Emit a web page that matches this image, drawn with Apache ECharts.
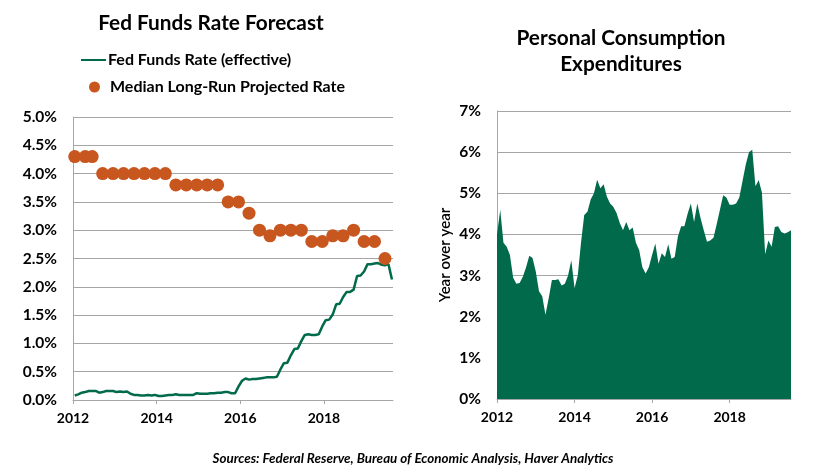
<!DOCTYPE html>
<html>
<head>
<meta charset="utf-8">
<script src="https://cdn.jsdelivr.net/npm/echarts@6/dist/echarts.min.js"></script>
<style>
  html, body { margin: 0; padding: 0; background: #ffffff; }
  #chart { width: 821px; height: 473px; }
</style>
</head>
<body>
<div id="chart"></div>
<script>
// ---------------- DATA ----------------
const yearTicks = [2012, 2014, 2016, 2018];

// Effective Fed Funds Rate, monthly, starting 2012-01
const ffStartYear = 2012;
const ffValues = [
  0.08, 0.10, 0.13, 0.14, 0.16, 0.16, 0.16, 0.13, 0.14, 0.16, 0.16, 0.16,
  0.14, 0.15, 0.14, 0.15, 0.11, 0.09, 0.09, 0.08, 0.08, 0.09, 0.08, 0.09,
  0.07, 0.07, 0.08, 0.09, 0.09, 0.10, 0.09, 0.09, 0.09, 0.09, 0.09, 0.12,
  0.11, 0.11, 0.11, 0.12, 0.12, 0.13, 0.13, 0.14, 0.14, 0.12, 0.12, 0.24,
  0.34, 0.38, 0.36, 0.37, 0.37, 0.38, 0.39, 0.40, 0.40, 0.40, 0.41, 0.54,
  0.65, 0.66, 0.79, 0.90, 0.91, 1.04, 1.15, 1.16, 1.15, 1.15, 1.16, 1.30,
  1.41, 1.42, 1.51, 1.69, 1.70, 1.82, 1.91, 1.91, 1.95, 2.19, 2.20, 2.27,
  2.40, 2.40, 2.41, 2.42, 2.39, 2.38, 2.40, 2.13
];

// Median long-run projected rate (FOMC meetings)
const dotDates = [
  '2012-01', '2012-04', '2012-06', '2012-09', '2012-12',
  '2013-03', '2013-06', '2013-09', '2013-12',
  '2014-03', '2014-06', '2014-09', '2014-12',
  '2015-03', '2015-06', '2015-09', '2015-12',
  '2016-03', '2016-06', '2016-09', '2016-12',
  '2017-03', '2017-06', '2017-09', '2017-12',
  '2018-03', '2018-06', '2018-09', '2018-12',
  '2019-03', '2019-06'
];
const dotValues = [
  4.3, 4.3, 4.3, 4.0, 4.0,
  4.0, 4.0, 4.0, 4.0,
  4.0, 3.8, 3.8, 3.8,
  3.8, 3.8, 3.5, 3.5,
  3.3, 3.0, 2.9, 3.0,
  3.0, 3.0, 2.8, 2.8,
  2.9, 2.9, 3.0, 2.8,
  2.8, 2.5
];

// PCE, year over year %, monthly, starting 2012-01
const pceStartYear = 2012;
const pceValues = [
  4.0, 4.6, 3.8, 3.7, 3.5, 2.95, 2.8, 2.82, 2.97, 3.2, 3.48, 3.43,
  3.1, 2.62, 2.5, 2.05, 2.45, 2.89, 2.89, 2.91, 2.76, 2.8, 3.0, 3.37,
  2.7, 3.0, 3.8, 4.47, 4.55, 4.85, 5.0, 5.33, 5.12, 5.22, 4.92, 4.75,
  4.67, 4.52, 4.28, 4.1, 4.3, 4.1, 4.17, 3.8, 3.62, 3.2, 3.05, 3.2,
  3.5, 3.78, 3.29, 3.54, 3.45, 3.76, 3.41, 3.45, 3.95, 4.2, 4.2, 4.5,
  4.75, 4.3, 4.75, 4.4, 4.1, 3.82, 3.85, 3.92, 4.25, 4.6, 4.95, 4.9,
  4.72, 4.72, 4.75, 4.9, 5.3, 5.7, 6.0, 6.06, 5.17, 5.32, 5.02, 3.52,
  3.85, 3.7, 4.18, 4.2, 4.06, 4.02, 4.05, 4.1
];

// ---------------- BUILD ----------------
const GREEN = '#006a4a';
const ORANGE = '#c8561f';
const GRID_COLOR = '#a6a6a6';
const FONT = 'Lato';

function monthToDec(s) {
  const [y, m] = s.split('-').map(Number);
  return y + (m - 1) / 12 + 1 / 24;
}
const ffData = ffValues.map((v, i) => [ffStartYear + i / 12 + 1 / 24, v]);
const dotData = dotDates.map((d, i) => [monthToDec(d), dotValues[i]]);
const pceData = pceValues.map((v, i) => [pceStartYear + i / 12, v]);
const pceMax = pceStartYear + (pceValues.length - 1) / 12;

const xLabelStyle = { color: '#000', fontFamily: FONT, fontWeight: 'bold', fontSize: 14 };
const yLabelStyle = { color: '#000', fontFamily: FONT, fontWeight: 'bold', fontSize: 15.5 };

const chart = echarts.init(document.getElementById('chart'));
chart.setOption({
  animation: false,
  backgroundColor: '#ffffff',
  textStyle: { fontFamily: FONT },
  graphic: [
    { type: 'text', x: 211, y: 23, style: { text: 'Fed Funds Rate Forecast', fill: '#000', font: 'bold 20.8px ' + FONT, textAlign: 'center', textVerticalAlign: 'middle' } },
    { type: 'text', x: 621, y: 38, style: { text: 'Personal Consumption', fill: '#000', font: 'bold 20.8px ' + FONT, textAlign: 'center', textVerticalAlign: 'middle' } },
    { type: 'text', x: 621, y: 64, style: { text: 'Expenditures', fill: '#000', font: 'bold 20.8px ' + FONT, textAlign: 'center', textVerticalAlign: 'middle' } },
    { type: 'text', x: 413, y: 459, style: { text: 'Sources: Federal Reserve, Bureau of Economic Analysis, Haver Analytics', fill: '#000', font: 'italic bold 13.4px ' + FONT, textAlign: 'center', textVerticalAlign: 'middle' } }
  ],
  legend: [
    {
      data: ['Fed Funds Rate (effective)'],
      left: 81, top: 52, padding: 0,
      icon: 'rect', itemWidth: 25, itemHeight: 2,
      textStyle: { color: '#000', fontFamily: FONT, fontWeight: 'bold', fontSize: 16, padding: [0, 0, 0, -3] }
    },
    {
      data: ['Median Long-Run Projected Rate'],
      left: 89, top: 79, padding: 0,
      icon: 'circle', itemWidth: 11, itemHeight: 11,
      textStyle: { color: '#000', fontFamily: FONT, fontWeight: 'bold', fontSize: 16, padding: [0, 0, 0, 5] }
    }
  ],
  grid: [
    { left: 73, right: 428, top: 117, bottom: 73 },
    { left: 497, right: 30, top: 111, bottom: 74 }
  ],
  xAxis: [
    {
      type: 'value', gridIndex: 0, min: 2012, max: 2019.65,
      axisLine: { show: true, lineStyle: { color: GRID_COLOR, width: 1 } },
      axisTick: { show: true, length: 4, lineStyle: { color: GRID_COLOR }, customValues: yearTicks },
      axisLabel: Object.assign({ margin: 11, customValues: yearTicks, formatter: v => String(Math.round(v)) }, xLabelStyle),
      splitLine: { show: false }
    },
    {
      type: 'value', gridIndex: 1, min: 2012, max: pceMax,
      axisLine: { show: true, lineStyle: { color: GRID_COLOR, width: 1 } },
      axisTick: { show: true, length: 4, lineStyle: { color: GRID_COLOR }, customValues: yearTicks },
      axisLabel: Object.assign({ margin: 11, customValues: yearTicks, formatter: v => String(Math.round(v)) }, xLabelStyle),
      splitLine: { show: false }
    }
  ],
  yAxis: [
    {
      type: 'value', gridIndex: 0, min: 0, max: 5, interval: 0.5,
      axisLine: { show: true, lineStyle: { color: GRID_COLOR, width: 1 } },
      axisTick: { show: false },
      axisLabel: Object.assign({ margin: 16, formatter: v => v.toFixed(1) + '%' }, yLabelStyle),
      splitLine: { show: true, lineStyle: { color: GRID_COLOR, width: 1 } }
    },
    {
      type: 'value', gridIndex: 1, min: 0, max: 7, interval: 1,
      name: 'Year over year', nameLocation: 'middle', nameGap: 44,
      nameTextStyle: { color: '#000', fontFamily: FONT, fontSize: 15, fontWeight: 600 },
      axisLine: { show: true, lineStyle: { color: GRID_COLOR, width: 1 } },
      axisTick: { show: false },
      axisLabel: Object.assign({ margin: 16, formatter: v => v + '%' }, yLabelStyle),
      splitLine: { show: true, lineStyle: { color: GRID_COLOR, width: 1 } }
    }
  ],
  series: [
    {
      name: 'Fed Funds Rate (effective)', type: 'line',
      xAxisIndex: 0, yAxisIndex: 0,
      data: ffData, showSymbol: false, symbol: 'none',
      lineStyle: { color: GREEN, width: 2.5 }, itemStyle: { color: GREEN },
      z: 2
    },
    {
      name: 'Median Long-Run Projected Rate', type: 'scatter',
      xAxisIndex: 0, yAxisIndex: 0,
      data: dotData, symbolSize: 13,
      itemStyle: { color: ORANGE, opacity: 1 },
      z: 3
    },
    {
      name: 'PCE', type: 'line',
      xAxisIndex: 1, yAxisIndex: 1,
      data: pceData, showSymbol: false, symbol: 'none',
      lineStyle: { width: 0, color: GREEN },
      areaStyle: { color: GREEN, opacity: 1 },
      z: 2
    }
  ]
});
</script>
</body>
</html>
